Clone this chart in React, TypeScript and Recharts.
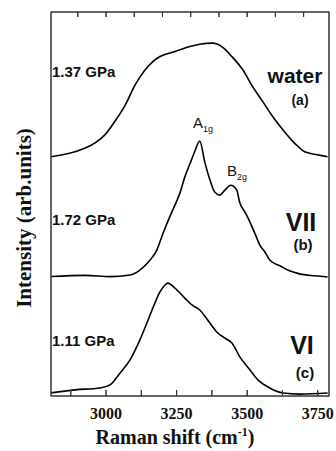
import React from 'react';
import { LineChart, Line, XAxis, YAxis } from 'recharts';

// Raman shift (cm-1) samples and stacked intensities for each spectrum
const waterShift = [2805, 2890, 2961, 2996, 3032, 3067, 3103, 3138, 3163, 3191, 3244, 3297, 3332, 3378, 3410, 3446, 3485, 3520, 3556, 3591, 3627, 3669, 3704, 3750, 3785];
const waterIntensity = [62.3, 63.6, 65.9, 68.0, 71.6, 75.6, 81.0, 84.9, 86.9, 88.4, 89.7, 91.0, 91.6, 91.9, 91.0, 88.4, 84.9, 80.5, 76.6, 72.7, 69.3, 65.8, 63.6, 62.8, 62.3];

const iceVIIShift = [2805, 2926, 3014, 3085, 3120, 3156, 3180, 3202, 3226, 3244, 3262, 3279, 3297, 3315, 3332, 3350, 3368, 3385, 3403, 3421, 3442, 3463, 3474, 3492, 3510, 3527, 3545, 3563, 3580, 3616, 3650, 3686, 3740, 3785];
const iceVIIIntensity = [31.1, 31.4, 31.1, 31.5, 32.8, 35.4, 38.0, 42.4, 46.7, 49.7, 52.9, 57.0, 60.4, 63.8, 66.4, 60.9, 56.3, 53.1, 52.3, 53.6, 54.9, 53.6, 50.3, 47.9, 45.3, 42.4, 39.3, 37.5, 35.4, 33.9, 32.6, 31.8, 31.3, 31.0];

const iceVIShift = [2805, 2890, 2979, 3014, 3050, 3085, 3120, 3149, 3173, 3191, 3209, 3219, 3244, 3279, 3304, 3332, 3368, 3396, 3421, 3446, 3474, 3510, 3538, 3580, 3627, 3686, 3785];
const iceVIIntensity = [0.8, 1.6, 2.1, 2.9, 6.0, 9.4, 14.6, 19.8, 24.2, 27.1, 28.9, 29.4, 28.1, 25.5, 23.7, 22.4, 19.0, 16.4, 15.1, 13.8, 10.2, 6.8, 4.2, 2.1, 0.8, 0.5, 0.8];

const bottomTicks = [2875, 3000, 3125, 3250, 3375, 3500, 3625, 3750];
const bottomLabels = [3000, 3250, 3500, 3750];
const topTicks = [2900, 3000, 3100, 3200, 3300, 3400, 3500, 3600, 3700];

// one table keyed by shift, each spectrum only where it was sampled
type Row = { x: number; water?: number; vii?: number; vi?: number };
const buildRows = (): Row[] => {
    const rows = new Map<number, Row>();
    const put = (xs: number[], ys: number[], key: 'water' | 'vii' | 'vi') => {
        xs.forEach((x, i) => {
            const row = rows.get(x) || { x };
            row[key] = ys[i];
            rows.set(x, row);
        });
    };
    put(waterShift, waterIntensity, 'water');
    put(iceVIIShift, iceVIIIntensity, 'vii');
    put(iceVIShift, iceVIIntensity, 'vi');
    return Array.from(rows.values()).sort((a, b) => a.x - b.x);
};
const spectra = buildRows();

const X_DOMAIN: [number, number] = [2805, 3790];
const Y_DOMAIN: [number, number] = [0, 100];

// plot box (matches the chart margins below)
const PLOT = { left: 51, top: 12, right: 329, bottom: 396 };
const tickX = (v: number) =>
    PLOT.left + ((v - X_DOMAIN[0]) / (X_DOMAIN[1] - X_DOMAIN[0])) * (PLOT.right - PLOT.left);

const sans = '"Liberation Sans", Arial, sans-serif';
const serif = '"Liberation Serif", "Times New Roman", serif';
const frame = '#333';

const App: React.FC = () => {
    return (
        <div style={{ position: 'absolute', left: 0, top: 0, width: 336, height: 451, background: '#fff' }}>
            <LineChart
                width={336}
                height={451}
                data={spectra}
                margin={{ top: 11, right: 6, left: 50, bottom: 0 }}
            >
                <XAxis
                    xAxisId="b"
                    type="number"
                    dataKey="x"
                    domain={X_DOMAIN}
                    allowDataOverflow
                    ticks={bottomTicks}
                    tickFormatter={(v: number) => (bottomLabels.includes(v) ? String(v) : '')}
                    tickSize={-6}
                    tickMargin={18}
                    height={55}
                    stroke={frame}
                    tick={{ fill: '#111', fontFamily: serif, fontWeight: 'bold', fontSize: 16 }}
                />
                <XAxis
                    xAxisId="t"
                    orientation="top"
                    type="number"
                    dataKey="x"
                    domain={X_DOMAIN}
                    allowDataOverflow
                    ticks={topTicks}
                    tickFormatter={() => ''}
                    tickSize={-5}
                    height={1}
                    stroke={frame}
                />
                <YAxis yAxisId="l" domain={Y_DOMAIN} allowDataOverflow width={1} tick={false} tickLine={false} stroke={frame} />
                <YAxis yAxisId="r" orientation="right" domain={Y_DOMAIN} allowDataOverflow width={1} tick={false} tickLine={false} stroke={frame} />
                <Line xAxisId="b" yAxisId="l" dataKey="water" connectNulls type="monotone" stroke="#000" strokeWidth={1.6} dot={false} isAnimationActive={false} />
                <Line xAxisId="b" yAxisId="l" dataKey="vii" connectNulls type="monotone" stroke="#000" strokeWidth={1.6} dot={false} isAnimationActive={false} />
                <Line xAxisId="b" yAxisId="l" dataKey="vi" connectNulls type="monotone" stroke="#000" strokeWidth={1.6} dot={false} isAnimationActive={false} />
            </LineChart>
            <svg width={336} height={451} style={{ position: 'absolute', left: 0, top: 0, pointerEvents: 'none' }}>
                <rect
                    x={PLOT.left}
                    y={PLOT.top}
                    width={PLOT.right - PLOT.left}
                    height={PLOT.bottom - PLOT.top}
                    fill="none"
                    stroke={frame}
                    strokeWidth={1}
                />
                <g stroke={frame} strokeWidth={1}>
                    {topTicks.map((t) => (
                        <line key={'t' + t} x1={tickX(t)} x2={tickX(t)} y1={PLOT.top} y2={PLOT.top + 5} />
                    ))}
                    {bottomTicks.map((t) => (
                        <line key={'b' + t} x1={tickX(t)} x2={tickX(t)} y1={PLOT.bottom} y2={PLOT.bottom - 6} />
                    ))}
                </g>
                <g fontFamily={sans} fill="#111">
                    <text x={52} y={77} fontSize={15} fontWeight="bold">1.37 GPa</text>
                    <text x={52} y={225} fontSize={15} fontWeight="bold">1.72 GPa</text>
                    <text x={52} y={346} fontSize={15} fontWeight="bold">1.11 GPa</text>
                    <text x={295} y={83} fontSize={21} fontWeight="bold" textAnchor="middle">water</text>
                    <text x={300} y={105} fontSize={14} fontWeight="bold" textAnchor="middle">(a)</text>
                    <text x={301} y={231} fontSize={25} fontWeight="bold" textAnchor="middle">VII</text>
                    <text x={303} y={250} fontSize={15} fontWeight="bold" textAnchor="middle">(b)</text>
                    <text x={302} y={354} fontSize={25} fontWeight="bold" textAnchor="middle">VI</text>
                    <text x={305} y={378} fontSize={15} fontWeight="bold" textAnchor="middle">(c)</text>
                    <text x={193} y={128} fontSize={15}>
                        A<tspan fontSize={9} dy={4}>1g</tspan>
                    </text>
                    <text x={227} y={176} fontSize={15}>
                        B<tspan fontSize={9} dy={4}>2g</tspan>
                    </text>
                </g>
                <g fontFamily={serif} fontWeight="bold" fill="#111">
                    <text x={175} y={444} fontSize={20} textAnchor="middle">
                        Raman shift (cm<tspan fontSize={12} dy={-8}>-1</tspan><tspan dy={8}>)</tspan>
                    </text>
                    <text x={31} y={218} fontSize={21} textAnchor="middle" transform="rotate(-90 31 218)">
                        Intensity (arb.units)
                    </text>
                </g>
            </svg>
        </div>
    );
};

export default App;
